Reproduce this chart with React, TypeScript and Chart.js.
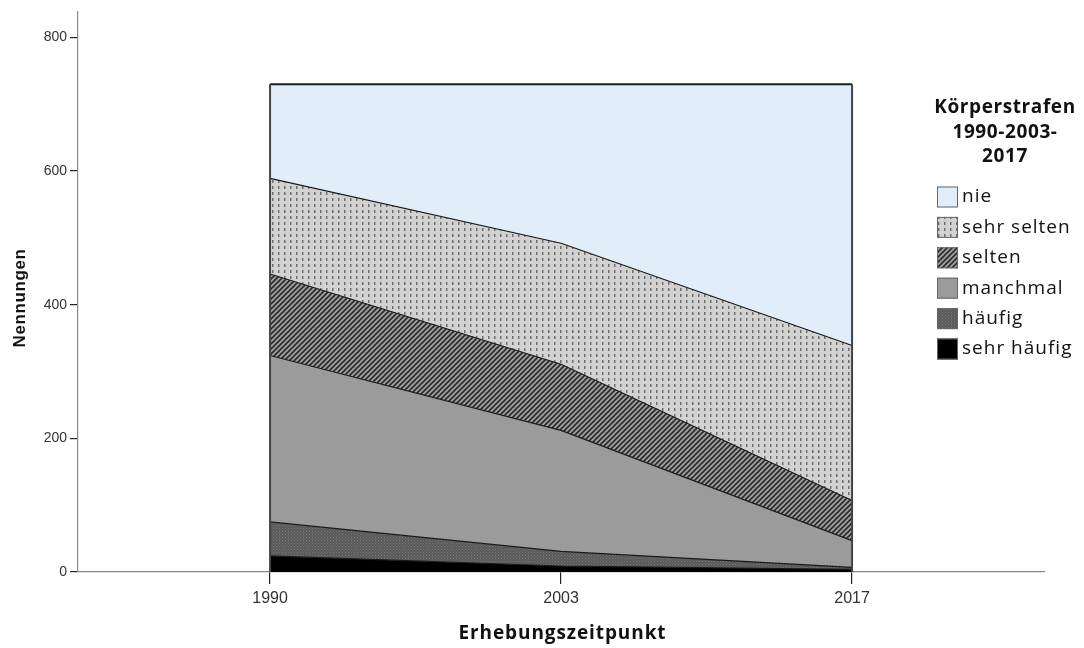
import { useEffect, useRef } from 'react';
import { Chart, registerables } from 'chart.js';

Chart.register(...registerables);

const years = ['1990', '2003', '2017'];
const seriesLabels = ['sehr häufig', 'häufig', 'manchmal', 'selten', 'sehr selten', 'nie'];
const sehrHaeufig = [24, 9, 4];
const haeufig = [51, 22, 3];
const manchmal = [249, 181, 40];
const selten = [122, 99, 60];
const sehrSelten = [143, 181, 232];
const nie = [141, 238, 391];
const yTicks = [0, 200, 400, 600, 800];
const legendTitle = ['Körperstrafen', '1990-2003-', '2017'];
const xTitle = 'Erhebungszeitpunkt';
const yTitle = 'Nennungen';

function makePattern(kind: string): CanvasPattern | string {
  const c = document.createElement('canvas');
  const g = c.getContext('2d')!;
  if (kind === 'dots') {
    c.width = 6; c.height = 6;
    g.fillStyle = '#d2d2d2'; g.fillRect(0, 0, 6, 6);
    g.fillStyle = '#6e6e6e'; g.fillRect(2, 0, 1.5, 3);
  } else if (kind === 'hatch') {
    c.width = 5; c.height = 5;
    g.fillStyle = '#a0a0a0'; g.fillRect(0, 0, 5, 5);
    g.strokeStyle = '#2a2a2a'; g.lineWidth = 1.6;
    g.beginPath();
    g.moveTo(-1, 6); g.lineTo(6, -1);
    g.moveTo(-6, 6); g.lineTo(1, -1);
    g.moveTo(4, 6); g.lineTo(11, -1);
    g.stroke();
  } else if (kind === 'checker') {
    c.width = 3; c.height = 3;
    g.fillStyle = '#595959'; g.fillRect(0, 0, 3, 3);
    g.fillStyle = '#7a7a7a'; g.fillRect(0, 0, 1, 1); g.fillRect(1.5, 1.5, 1, 1);
  }
  return g.createPattern(c, 'repeat')!;
}

export default function App() {
  const ref = useRef<HTMLCanvasElement>(null);
  useEffect(() => {
    const fills = [
      '#000000',
      makePattern('checker'),
      '#9b9b9b',
      makePattern('hatch'),
      makePattern('dots'),
      '#e1eefa',
    ];
    const series = [sehrHaeufig, haeufig, manchmal, selten, sehrSelten, nie];
    const datasets = series.map((vals, i) => ({
      label: seriesLabels[i],
      data: vals.map((v, j) => ({ x: j, y: v })),
      backgroundColor: fills[i] as any,
      borderColor: '#1a1a1a',
      borderWidth: i === series.length - 1 ? 2 : 1.2,
      fill: i === 0 ? 'origin' : '-1',
      pointRadius: 0,
      tension: 0,
    }));

    const outline = {
      id: 'outline',
      afterDatasetsDraw(chart: any) {
        const { ctx, scales } = chart;
        const x = scales.x, y = scales.y;
        const n = years.length;
        const totals = years.map((_, j) => series.reduce((s, a) => s + a[j], 0));
        ctx.save();
        ctx.strokeStyle = '#444';
        ctx.lineWidth = 2;
        [0, n - 1].forEach((j) => {
          const px = x.getPixelForValue(j);
          ctx.beginPath();
          ctx.moveTo(px, y.getPixelForValue(0));
          ctx.lineTo(px, y.getPixelForValue(totals[j]));
          ctx.stroke();
        });
        ctx.restore();
      },
      afterDraw(chart: any) {
        const { ctx, chartArea } = chart;
        ctx.save();
        ctx.fillStyle = '#111';
        ctx.textAlign = 'center';
        ctx.textBaseline = 'middle';
        // axis titles
        ctx.font = 'bold 19px "Open Sans"';
        (ctx as any).letterSpacing = '0.9px';
        ctx.fillText(xTitle, (chartArea.left + chartArea.right) / 2 + 1, 634);
        ctx.save();
        ctx.translate(20, 298);
        ctx.rotate(-Math.PI / 2);
        ctx.font = 'bold 17px "Liberation Sans"';
        (ctx as any).letterSpacing = '0.6px';
        ctx.fillText(yTitle, 0, 0);
        ctx.restore();
        // legend
        ctx.font = 'bold 19px "Open Sans"';
        (ctx as any).letterSpacing = '0.6px';
        legendTitle.forEach((t, i) => ctx.fillText(t, 1005, 108 + i * 24.5));
        ctx.textAlign = 'left';
        ctx.font = '19px "Open Sans"';
        (ctx as any).letterSpacing = '1px';
        const ds = chart.data.datasets;
        for (let k = 0; k < ds.length; k++) {
          const d = ds[ds.length - 1 - k];
          const cy = 197 + k * 30.4;
          ctx.fillStyle = d.backgroundColor;
          ctx.fillRect(937, cy - 10.5, 21, 21);
          ctx.strokeStyle = '#666';
          ctx.lineWidth = 1;
          ctx.strokeRect(937.5, cy - 10, 20, 20);
          ctx.fillStyle = '#111';
          ctx.fillText(d.label, 962, cy);
        }
        ctx.restore();
      },
    };

    const chart = new Chart(ref.current!, {
      type: 'line',
      data: { datasets: datasets as any },
      plugins: [outline],
      options: {
        animation: false,
        responsive: false,
        maintainAspectRatio: false,
        layout: { padding: { top: 0, right: 39, left: 0, bottom: 0 } },
        plugins: { legend: { display: false }, tooltip: { enabled: false } },
        scales: {
          x: {
            type: 'linear',
            min: -0.66,
            max: 2.663,
            afterBuildTicks: (s: any) => { s.ticks = years.map((_, i) => ({ value: i })); },
            afterFit: (s: any) => { s.height = 76; },
            ticks: {
              callback: (v: any) => years[v] ?? '',
              color: '#333',
              font: { family: 'Liberation Sans', size: 16 },
              padding: 5,
              maxRotation: 0,
            },
            grid: { display: true, drawOnChartArea: false, drawTicks: true, tickLength: 12, color: '#222', lineWidth: 1.2 },
            border: { display: true, color: '#888', width: 1.2 },
            title: { display: false },
          },
          y: {
            type: 'linear',
            stacked: true,
            min: 0,
            max: 839,
            afterBuildTicks: (s: any) => { s.ticks = yTicks.map((v) => ({ value: v })); },
            afterFit: (s: any) => { s.width = 78; },
            ticks: {
              color: '#333',
              font: { family: 'Liberation Sans', size: 14 },
              padding: 3,
            },
            grid: { display: true, drawOnChartArea: false, drawTicks: true, tickLength: 8, color: '#222', lineWidth: 1.2 },
            border: { display: true, color: '#888', width: 1.2 },
            title: { display: false },
          },
        },
      },
    });
    return () => chart.destroy();
  }, []);
  return (
    <div style={{ position: 'absolute', left: 0, top: 0, width: 1084, height: 648, background: '#fff' }}>
      <canvas ref={ref} width={1084} height={648} style={{ width: 1084, height: 648 }} />
    </div>
  );
}
